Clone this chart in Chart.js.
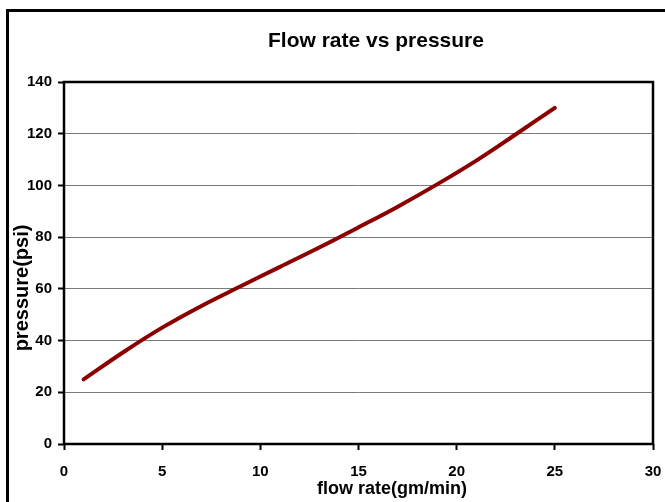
<!DOCTYPE html>
<html>
<head>
<meta charset="utf-8">
<script src="https://cdn.jsdelivr.net/npm/chart.js@4.4.1/dist/chart.umd.min.js"></script>
<style>
  html, body { margin: 0; padding: 0; background: #fff; overflow: hidden; }
  #wrap { position: relative; width: 665px; height: 502px; overflow: hidden; }
  #frame {
    position: absolute; left: 6px; top: 9px;
    width: 740px; height: 600px;
    border: 3px solid #000; box-sizing: border-box;
  }
  #chart { position: absolute; left: 0; top: 0; }
</style>
</head>
<body>
<div id="wrap">
  <div id="frame"></div>
  <canvas id="chart" width="665" height="502"></canvas>
</div>
<script>
// values
const flowRate = [1, 3, 5, 7, 9, 11, 13, 15, 17, 19, 21, 23, 25];
const pressure = [25, 35.4, 45, 53.4, 61, 68.5, 76, 83.8, 91.8, 100.4, 109.6, 119.7, 130];
const xTicks = [0, 5, 10, 15, 20, 25, 30];
const yTicks = [0, 20, 40, 60, 80, 100, 120, 140];

const chartTitle = 'Flow rate vs pressure';
const xTitle = 'flow rate(gm/min)';
const yTitle = 'pressure(psi)';

const FONT = '"Liberation Sans", Arial, sans-serif';

// plot frame + titles (Excel-style placement, not centred on the plot)
const excelLook = {
  id: 'excelLook',
  afterDraw(chart) {
    const { ctx, chartArea: a } = chart;
    ctx.save();
    ctx.strokeStyle = '#000';
    ctx.lineWidth = 2.5;
    ctx.strokeRect(a.left, a.top, a.right - a.left, a.bottom - a.top);

    ctx.fillStyle = '#000';
    ctx.textBaseline = 'alphabetic';
    ctx.textAlign = 'center';
    ctx.font = `bold 21px ${FONT}`;
    ctx.fillText(chartTitle, 376, 47);

    ctx.font = `bold 18px ${FONT}`;
    ctx.fillText(xTitle, 392, 494);

    ctx.translate(28, 288);
    ctx.rotate(-Math.PI / 2);
    ctx.font = `bold 20px ${FONT}`;
    ctx.fillText(yTitle, 0, 0);
    ctx.restore();
  },
};

new Chart(document.getElementById('chart'), {
  type: 'scatter',
  data: {
    datasets: [{
      data: flowRate.map((x, i) => ({ x, y: pressure[i] })),
      showLine: true,
      borderColor: '#8b0000',
      borderWidth: 4,
      borderCapStyle: 'round',
      pointRadius: 0,
      tension: 0.4,
    }],
  },
  options: {
    responsive: false,
    animation: false,
    layout: { padding: { top: 82, right: 12, left: 0, bottom: 0 } },
    plugins: {
      legend: { display: false },
      tooltip: { enabled: false },
      title: { display: false },
    },
    scales: {
      x: {
        type: 'linear',
        min: xTicks[0],
        max: xTicks[xTicks.length - 1],
        afterBuildTicks: (s) => { s.ticks = xTicks.map((v) => ({ value: v })); },
        afterFit: (s) => {
          s.height = 58;
          s.paddingLeft = 0;
          s.paddingRight = 0;
        },
        border: { display: false },
        grid: {
          drawOnChartArea: false,
          drawTicks: true,
          tickLength: 6,
          tickColor: '#000',
          tickWidth: 2,
        },
        ticks: {
          color: '#000',
          padding: 13,
          font: { family: FONT, size: 15, weight: 'bold' },
        },
      },
      y: {
        type: 'linear',
        min: yTicks[0],
        max: yTicks[yTicks.length - 1],
        afterBuildTicks: (s) => { s.ticks = yTicks.map((v) => ({ value: v })); },
        afterFit: (s) => {
          s.width = 64;
          s.paddingTop = 0;
          s.paddingBottom = 0;
        },
        border: { display: false },
        grid: {
          color: '#7a7a7a',
          lineWidth: 1,
          tickLength: 6,
          tickColor: '#000',
          tickWidth: 2,
        },
        ticks: {
          color: '#000',
          padding: 6,
          font: { family: FONT, size: 15, weight: 'bold' },
        },
      },
    },
  },
  plugins: [excelLook],
});
</script>
</body>
</html>
